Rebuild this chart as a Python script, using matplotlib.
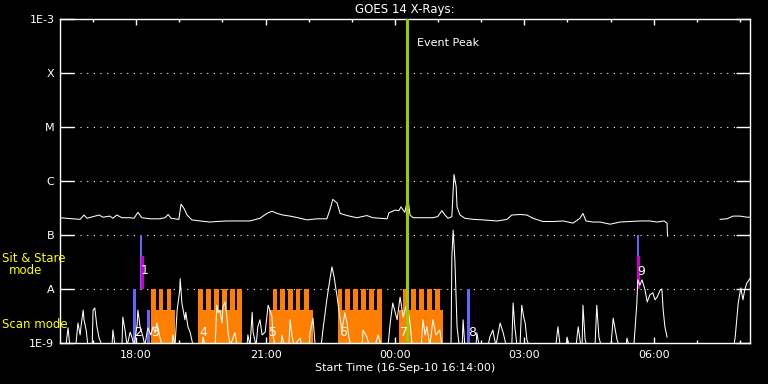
import numpy as np
import matplotlib
matplotlib.use('Agg')
import matplotlib.pyplot as plt

# time in hours of 16-Sep (values > 24 are on 17-Sep), flux as log10(W/m^2)
long_t = [16.23, 16.53, 16.70, 16.79, 16.86, 17.00, 17.14, 17.23, 17.39, 17.46, 17.55, 17.67,
          17.86, 17.95, 18.04, 18.13, 18.32, 18.55, 18.67, 18.74, 18.81, 18.99, 19.04, 19.11,
          19.18, 19.29, 19.48, 19.71, 19.87, 20.11, 20.41, 20.64, 20.87, 21.03, 21.15, 21.27,
          21.40, 21.57, 21.75, 21.96, 22.19, 22.42, 22.49, 22.56, 22.66, 22.73, 22.89, 23.12,
          23.35, 23.49, 23.82, 23.86, 24.00, 24.09, 24.14, 24.23, 24.30, 24.35, 24.42, 24.58,
          24.88, 24.99, 25.09, 25.16, 25.23, 25.32, 25.35, 25.37, 25.42, 25.44, 25.51, 25.62,
          25.81, 26.04, 26.37, 26.60, 26.71, 26.90, 27.06, 27.20, 27.43, 27.67, 27.90, 28.13,
          28.29, 28.36, 28.43, 28.59, 28.76, 28.99, 29.22, 29.45, 29.68, 29.91, 30.08, 30.24,
          30.31, 30.32, 30.33, 31.54, 31.70, 31.84, 32.00, 32.16, 32.24]
long_v = [-6.68, -6.70, -6.71, -6.63, -6.69, -6.66, -6.63, -6.67, -6.65, -6.69, -6.63, -6.68,
          -6.68, -6.69, -6.58, -6.68, -6.70, -6.70, -6.68, -6.62, -6.69, -6.71, -6.43, -6.51,
          -6.63, -6.72, -6.74, -6.76, -6.75, -6.74, -6.74, -6.74, -6.69, -6.60, -6.56, -6.60,
          -6.63, -6.65, -6.68, -6.72, -6.70, -6.70, -6.54, -6.34, -6.41, -6.60, -6.64, -6.68,
          -6.64, -6.68, -6.70, -6.59, -6.54, -6.55, -6.48, -6.58, -6.32, -6.63, -6.68, -6.68,
          -6.68, -6.66, -6.55, -6.63, -6.69, -6.66, -6.17, -5.88, -6.11, -6.48, -6.63, -6.69,
          -6.71, -6.72, -6.74, -6.71, -6.63, -6.62, -6.63, -6.69, -6.75, -6.75, -6.74, -6.78,
          -6.69, -6.60, -6.74, -6.76, -6.76, -6.80, -6.76, -6.75, -6.74, -6.74, -6.76, -6.74,
          -6.78, -7.02, np.nan, -6.71, -6.70, -6.65, -6.65, -6.67, -6.67]

short_t = [16.23, 16.37, 16.42, 16.46, 16.60, 16.63, 16.65, 16.70, 16.72, 16.77, 16.79, 16.84,
           16.88, 16.98, 17.00, 17.04, 17.09, 17.14, 17.21, 17.44, 17.46, 17.51, 17.67, 17.69,
           17.74, 17.79, 17.86, 17.90, 17.95, 18.02, 18.04, 18.09, 18.16, 18.20, 18.27, 18.34,
           18.39, 18.44, 18.48, 18.55, 18.60, 18.83, 18.85, 18.90, 18.95, 19.01, 19.02, 19.06,
           19.13, 19.15, 19.20, 19.25, 19.32, 19.53, 19.55, 19.60, 19.83, 19.87, 19.90, 19.94,
           19.99, 20.01, 20.06, 20.11, 20.13, 20.18, 20.29, 20.34, 20.57, 20.59, 20.64, 20.69,
           20.71, 20.78, 20.82, 20.87, 20.92, 20.99, 21.06, 21.10, 21.15, 21.17, 21.22, 21.36,
           21.38, 21.43, 21.54, 21.57, 21.61, 21.66, 21.80, 21.84, 22.01, 22.03, 22.10, 22.15,
           22.29, 22.33, 22.42, 22.49, 22.54, 22.59, 22.66, 22.70, 22.77, 22.84, 22.89, 22.93,
           22.98, 23.24, 23.26, 23.35, 23.40, 23.54, 23.61, 23.68, 23.84, 23.89, 23.95, 24.05,
           24.12, 24.19, 24.28, 24.35, 24.40, 24.61, 24.65, 24.70, 24.74, 24.81, 24.88, 24.95,
           25.04, 25.09, 25.30, 25.32, 25.35, 25.39, 25.44, 25.49, 25.56, 25.58, 25.62, 25.88,
           25.90, 25.95, 26.16, 26.20, 26.27, 26.34, 26.44, 26.51, 26.58, 26.71, 26.74, 26.78,
           26.83, 26.90, 26.94, 26.99, 27.02, 27.06, 27.11, 27.73, 27.78, 27.83, 27.97, 27.99,
           28.04, 28.20, 28.25, 28.31, 28.34, 28.36, 28.41, 28.45, 28.64, 28.68, 28.73, 28.78,
           29.01, 29.06, 29.15, 29.20, 29.36, 29.38, 29.43, 29.54, 29.57, 29.61, 29.63, 29.68,
           29.73, 29.80, 29.85, 29.91, 29.98, 30.03, 30.08, 30.15, 30.19, 30.22, 30.26, 30.31,
           30.32, 31.86, 31.89, 31.96, 32.02, 32.07, 32.11, 32.16, 32.24]
short_v = [-9.05, -9.05, -8.72, -9.05, -9.05, -8.81, -8.63, -8.85, -8.70, -8.39, -8.57, -8.76,
           -9.05, -9.05, -8.39, -8.35, -8.70, -8.91, -9.05, -9.05, -8.76, -9.05, -9.05, -8.52,
           -8.76, -9.05, -8.80, -8.89, -9.05, -8.67, -8.39, -8.70, -8.89, -9.05, -8.72, -8.85,
           -8.70, -8.81, -8.63, -8.89, -9.05, -9.05, -8.85, -9.05, -8.39, -8.02, -7.81, -8.26,
           -8.57, -8.43, -8.70, -8.80, -9.05, -9.05, -8.89, -9.05, -9.05, -8.30, -8.44, -8.39,
           -8.63, -8.33, -8.24, -8.57, -8.81, -9.05, -8.81, -9.05, -9.05, -8.85, -9.05, -8.43,
           -8.80, -9.05, -8.70, -8.57, -8.85, -8.80, -8.30, -8.39, -8.52, -8.85, -9.05, -9.05,
           -8.85, -9.05, -9.05, -8.57, -8.85, -9.05, -8.91, -9.05, -9.05, -8.81, -8.54, -9.05,
           -9.05, -8.76, -8.20, -7.83, -7.59, -7.78, -8.15, -8.39, -8.76, -8.44, -8.63, -8.89,
           -9.05, -9.05, -8.76, -8.89, -9.05, -9.05, -8.85, -9.05, -9.05, -8.63, -8.26, -8.57,
           -8.15, -8.52, -8.26, -8.63, -9.05, -9.05, -8.57, -8.85, -8.70, -9.05, -8.57, -8.85,
           -8.76, -9.05, -9.05, -7.41, -6.91, -7.46, -8.70, -9.05, -9.05, -8.57, -9.05, -9.05,
           -8.81, -9.05, -9.05, -8.89, -8.76, -9.05, -8.63, -8.81, -9.05, -9.05, -8.26, -8.70,
           -9.05, -9.05, -8.30, -8.54, -8.63, -8.94, -9.05, -9.05, -8.70, -9.05, -9.05, -8.89,
           -9.05, -9.05, -8.70, -9.05, -9.05, -8.30, -8.94, -9.05, -9.05, -8.30, -8.89, -9.05,
           -9.05, -8.54, -8.94, -9.05, -9.05, -8.91, -9.05, -9.05, -8.70, -8.26, -7.83, -7.93,
           -7.83, -8.02, -8.24, -8.11, -8.07, -8.20, -8.15, -8.02, -8.00, -8.39, -8.70, -8.89,
           np.nan, -9.05, -8.89, -8.26, -7.98, -8.20, -8.02, -7.89, -7.80]

# scan mode rasters: (start, end) of each block and of its tall steps
scan_blocks = [(18.34, 18.90), (19.43, 20.45), (21.08, 22.10), (22.68, 23.70), (24.09, 25.11)]
scan_steps = [(18.34, 18.46), (18.53, 18.62), (18.71, 18.81),
              (19.43, 19.55), (19.62, 19.73), (19.80, 19.92), (19.99, 20.11), (20.18, 20.29), (20.34, 20.45),
              (21.17, 21.27), (21.34, 21.45), (21.52, 21.64), (21.71, 21.80), (21.89, 22.01),
              (22.68, 22.77), (22.84, 22.96), (23.03, 23.14), (23.21, 23.33), (23.40, 23.51), (23.58, 23.70),
              (24.19, 24.30), (24.37, 24.49), (24.56, 24.67), (24.74, 24.86), (24.93, 25.04)]
# other observations: (start, end, low, high) in log10 flux
blue_obs = [(17.93, 18.00, -9.0, -8.0), (18.25, 18.32, -9.0, -8.39), (25.67, 25.74, -9.0, -8.0),
            (18.09, 18.13, -8.0, -7.0), (29.61, 29.66, -8.0, -7.0)]
stare_obs = [(18.11, 18.18, -8.0, -7.39), (29.62, 29.68, -8.0, -7.39)]
obs_labels = ['1', '2', '3', '4', '5', '6', '7', '8', '9']
obs_label_t = [18.20, 18.04, 18.44, 19.55, 21.17, 22.79, 24.21, 25.79, 29.71]
obs_label_v = [-7.65, -8.81, -8.81, -8.81, -8.81, -8.81, -8.81, -8.81, -7.67]

event_peak = 24.29
tick_hours = [18, 21, 24, 27, 30]
tick_labels = ['18:00', '21:00', '00:00', '03:00', '06:00']
y_decades = [-9, -8, -7, -6, -5, -4, -3]
y_labels = ['1E-9', 'A', 'B', 'C', 'M', 'X', '1E-3']

plt.rcParams['font.family'] = ['DejaVu Sans']
fig = plt.figure(figsize=(7.68, 3.84), dpi=100, facecolor='black')
ax = fig.add_axes([60 / 768, 41 / 384, 690 / 768, 324 / 384], facecolor='black')
ax.set_yscale('log')

orange = '#ff8000'
for s, e in scan_blocks:
    ax.bar(s, 10 ** -8.39 - 1e-9, width=e - s, bottom=1e-9, align='edge', color=orange, lw=0, zorder=2)
for s, e in scan_steps:
    ax.bar(s, 1e-8 - 1e-9, width=e - s, bottom=1e-9, align='edge', color=orange, lw=0, zorder=2)
for s, e, lo, hi in blue_obs:
    ax.bar(s, 10 ** hi - 10 ** lo, width=e - s, bottom=10 ** lo, align='edge', color='#6464ff', lw=0, zorder=2)
for s, e, lo, hi in stare_obs:
    ax.bar(s, 10 ** hi - 10 ** lo, width=e - s, bottom=10 ** lo, align='edge', color='#cc00cc', lw=0, zorder=2)

ax.plot(long_t, 10 ** np.array(long_v), color='white', lw=0.75, zorder=3)
ax.plot(short_t, 10 ** np.array(short_v), color='white', lw=0.75, zorder=3)

for lab, t, v in zip(obs_labels, obs_label_t, obs_label_v):
    ax.text(t, 10 ** v, lab, color='white', fontsize=9, ha='center', va='center', zorder=4)

ax.axvline(event_peak, color='#99cc00', lw=2.2, zorder=3)
ax.text(event_peak + 0.22, 10 ** -3.45, 'Event Peak', color='white', fontsize=8, ha='left', va='center')

ax.set_xlim(16.2333, 32.2333)
ax.set_ylim(1e-9, 1e-3)
ax.set_xticks(tick_hours)
ax.set_xticklabels(tick_labels)
ax.set_xticks(np.arange(17, 33), minor=True)
ax.set_yticks([10.0 ** d for d in y_decades])
ax.set_yticklabels(y_labels)
ax.yaxis.set_minor_locator(matplotlib.ticker.NullLocator())
ax.tick_params(axis='y', which='major', direction='in', length=10, width=1, color='white',
               labelcolor='white', labelsize=8, left=True, right=True, pad=4)
ax.tick_params(axis='x', which='major', direction='in', length=4, width=1, color='white',
               labelcolor='white', labelsize=8, top=True, bottom=True, pad=5)
ax.tick_params(axis='x', which='minor', direction='in', length=2.5, width=1, color='white',
               top=True, bottom=True)
for sp in ax.spines.values():
    sp.set_color('white')
    sp.set_linewidth(1)
ax.grid(axis='y', color='white', linestyle=(0, (1, 5)), linewidth=0.8)
ax.set_axisbelow(True)

ax.set_xlabel('Start Time (16-Sep-10 16:14:00)', color='white', fontsize=8, labelpad=2)
ax.set_title('GOES 14 X-Rays:', color='white', fontsize=8.5, pad=4)

fig.text(2 / 768, 1 - 259 / 384, 'Sit & Stare', color='yellow', fontsize=8.5, ha='left', va='center')
fig.text(26 / 768, 1 - 271 / 384, 'mode', color='yellow', fontsize=8.5, ha='center', va='center')
fig.text(2 / 768, 1 - 324 / 384, 'Scan mode', color='yellow', fontsize=8.5, ha='left', va='center')

fig.savefig('out.png', dpi=100, facecolor='black')
